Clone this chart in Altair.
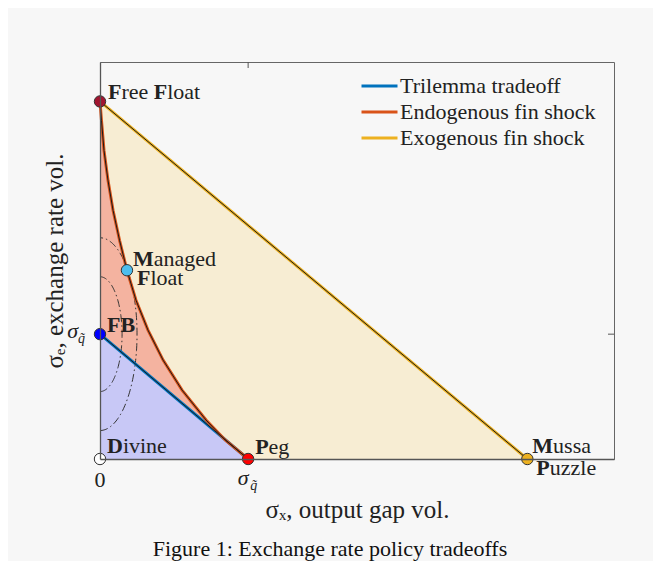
import altair as alt
import numpy as np
import pandas as pd

# ---------------- values ----------------
# x in units of sigma_q on the x axis, y in units of sigma_q on the y axis
x_max = 3.47
y_max = 3.18

trilemma_x = [0.0, 1.0]
trilemma_y = [1.0, 0.0]

endog_x = [0.0, 0.010, 0.027, 0.054, 0.088, 0.132, 0.182, 0.243, 0.324, 0.426, 0.554, 0.716, 0.845, 1.0]
endog_y = [2.864, 2.712, 2.472, 2.232, 1.992, 1.752, 1.512, 1.272, 1.032, 0.792, 0.552, 0.312, 0.152, 0.0]

exog_x = [0.0, 2.885]
exog_y = [2.864, 0.0]

series_names = ["Trilemma tradeoff", "Endogenous fin shock", "Exogenous fin shock"]
series_colors = ["#0072BD", "#D95319", "#EDB120"]

point_names = ["Free Float", "Managed Float", "FB", "Divine", "Peg", "Mussa Puzzle"]
point_x = [0.0, 0.182, 0.0, 0.0, 1.0, 2.885]
point_y = [2.864, 1.512, 1.0, 0.0, 0.0, 0.0]
point_colors = ["#A2142F", "#4DBEEE", "#0000FF", "#FFFFFF", "#FF0000", "#EDB120"]

# indifference ellipses centred on FB (semi-axes in data units)
ellipse_cy = 1.0
ellipse_ax = [0.149, 0.25]
ellipse_ay = [0.46, 0.772]

# ---------------- layout ----------------
W, H = 514, 397
kx, ky = W / x_max, H / y_max
FONT = "Liberation Serif"
TXT = "#222222"
FS = 22

xs = alt.Scale(domain=[0, x_max], nice=False, zero=False)
ys = alt.Scale(domain=[0, y_max], nice=False, zero=False)

xaxis = alt.Axis(title="σₓ, output gap vol.", labels=False, ticks=False, grid=False,
                 domainColor="#555", domainWidth=1.3, zindex=1,
                 titleFont=FONT, titleFontSize=25, titleFontWeight="normal", titleColor=TXT,
                 titleBaseline="alphabetic", titleY=58)
yaxis = alt.Axis(title="σₑ, exchange rate vol.", labels=False, ticks=False, grid=False,
                 domainColor="#555", domainWidth=1.3, zindex=1,
                 titleFont=FONT, titleFontSize=25, titleFontWeight="normal", titleColor=TXT,
                 titleBaseline="alphabetic", titleX=-38, titleAngle=-90)

# ---------------- data frames ----------------
tri = pd.DataFrame({"x": trilemma_x, "y": trilemma_y, "series": series_names[0], "o": range(2)})
endo = pd.DataFrame({"x": endog_x, "y": endog_y, "series": series_names[1], "o": range(len(endog_x))})
exo = pd.DataFrame({"x": exog_x, "y": exog_y, "series": series_names[2], "o": range(2)})
lines = pd.concat([tri, endo, exo], ignore_index=True)

t = np.linspace(-np.pi / 2, np.pi / 2, 120)
ell_rows = []
for i, (ax_, ay_) in enumerate(zip(ellipse_ax, ellipse_ay)):
    for j, tt in enumerate(t):
        ell_rows.append({"e": i, "o": j, "x": ax_ * np.cos(tt), "y": ellipse_cy + ay_ * np.sin(tt)})
ell = pd.DataFrame(ell_rows)

pts = pd.DataFrame({"name": point_names, "x": point_x, "y": point_y, "fill": point_colors})

# label pieces (bold initials) -- Times-compatible metrics for Liberation Serif
REG = {' ': 250, 'a': 444, 'd': 500, 'e': 444, 'g': 500, 'i': 278, 'l': 278, 'n': 500, 'o': 500,
       'r': 333, 's': 389, 'u': 500, 'v': 500, 'z': 444, 't': 278, 'F': 556, 'M': 889, 'P': 556,
       'D': 722, 'B': 667}
BOLD = {'F': 611, 'M': 944, 'P': 611, 'D': 722, 'B': 667}


def width(s, bold):
    tab = BOLD if bold else REG
    return sum(tab.get(c, 500) for c in s) * FS / 1000.0


label_lines = [
    (0, [("F", 1), ("ree ", 0), ("F", 1), ("loat", 0)], 8, -2),
    (1, [("M", 1), ("anaged", 0)], 6, -4),
    (1, [("F", 1), ("loat", 0)], 10, 15),
    (2, [("FB", 1)], 7, -2),
    (3, [("D", 1), ("ivine", 0)], 7, -6),
    (4, [("P", 1), ("eg", 0)], 7, -5),
    (5, [("M", 1), ("ussa", 0)], 5, -6),
    (5, [("P", 1), ("uzzle", 0)], 9, 16),
]
lab_rows = []
for pi, pieces, dx, dy in label_lines:
    off = dx
    for s, b in pieces:
        lab_rows.append({"text": s, "bold": b,
                         "x": point_x[pi] + off / kx, "y": point_y[pi] - dy / ky})
        off += width(s, b)
labs = pd.DataFrame(lab_rows)

# ---------------- layers ----------------
base_x = alt.X("x:Q", scale=xs, axis=xaxis)
base_y = alt.Y("y:Q", scale=ys, axis=yaxis)

fill_exo = alt.Chart(exo).mark_area(color="#F7EDD3").encode(x=base_x, y=base_y, y2=alt.datum(0))
fill_endo = alt.Chart(endo).mark_area(color="#F4B3A0").encode(x="x:Q", y="y:Q", y2=alt.datum(0))
fill_tri = alt.Chart(tri).mark_area(color="#C8C8F6").encode(x="x:Q", y="y:Q", y2=alt.datum(0))

ellipses = alt.Chart(ell).mark_line(color="#333333", strokeWidth=1, strokeDash=[8, 3, 1.5, 3]).encode(
    x="x:Q", y="y:Q", detail="e:N", order="o:Q")

color_lines = alt.Chart(lines).mark_line(strokeWidth=3).encode(
    x="x:Q", y="y:Q", order="o:Q",
    color=alt.Color("series:N", scale=alt.Scale(domain=series_names, range=series_colors),
                    legend=alt.Legend(title=None, orient="none", legendX=260, legendY=11,
                                      symbolType="stroke", symbolSize=1296, symbolStrokeWidth=3,
                                      labelFont=FONT, labelFontSize=FS, labelColor=TXT,
                                      labelOffset=1, rowPadding=0, clipHeight=26,
                                      labelLimit=400)))
core_lines = alt.Chart(lines).mark_line(strokeWidth=1, color="#1a1a1a").encode(
    x="x:Q", y="y:Q", detail="series:N", order="o:Q")

points = alt.Chart(pts).mark_point(filled=True, shape="circle", size=130, stroke="#333333",
                                   strokeWidth=1, opacity=1).encode(
    x="x:Q", y="y:Q", fill=alt.Fill("fill:N", scale=None))

lab_reg = alt.Chart(labs).transform_filter("datum.bold == 0").mark_text(
    align="left", baseline="alphabetic", font=FONT, fontSize=FS, color=TXT).encode(
    x="x:Q", y="y:Q", text="text:N")
lab_bold = alt.Chart(labs).transform_filter("datum.bold == 1").mark_text(
    align="left", baseline="alphabetic", font=FONT, fontSize=FS, fontWeight="bold", color=TXT).encode(
    x="x:Q", y="y:Q", text="text:N")

# tick labels
tick_df = pd.DataFrame({"x": [0.0], "y": [0.0]})
lab0 = alt.Chart(tick_df).mark_text(font=FONT, fontSize=FS, color=TXT, baseline="alphabetic",
                                    align="center", dy=28).encode(x="x:Q", y="y:Q", text=alt.value("0"))
sq_x = pd.DataFrame({"x": [1.0], "y": [0.0]})
sig_x = alt.Chart(sq_x).mark_text(font=FONT, fontSize=FS, fontStyle="italic", color=TXT,
                                  baseline="alphabetic", align="center", dx=-5, dy=26).encode(
    x="x:Q", y="y:Q", text=alt.value("σ"))
sub_x = alt.Chart(sq_x).mark_text(font=FONT, fontSize=14, fontStyle="italic", color=TXT,
                                  baseline="alphabetic", align="left", dx=2, dy=31).encode(
    x="x:Q", y="y:Q", text=alt.value("q̃"))
sq_y = pd.DataFrame({"x": [0.0], "y": [1.0]})
sig_y = alt.Chart(sq_y).mark_text(font=FONT, fontSize=FS, fontStyle="italic", color=TXT,
                                  baseline="alphabetic", align="right", dx=-22, dy=4).encode(
    x="x:Q", y="y:Q", text=alt.value("σ"))
sub_y = alt.Chart(sq_y).mark_text(font=FONT, fontSize=14, fontStyle="italic", color=TXT,
                                  baseline="alphabetic", align="left", dx=-22, dy=9).encode(
    x="x:Q", y="y:Q", text=alt.value("q̃"))

# inward ticks on top and right frame
top_tick = alt.Chart(sq_x).mark_rule(color="#555555", strokeWidth=1).encode(
    x=alt.datum(1.0), y=alt.value(0), y2=alt.value(6))
right_tick = alt.Chart(sq_y).mark_rule(color="#555555", strokeWidth=1).encode(
    y=alt.datum(1.0), x=alt.value(W - 6), x2=alt.value(W))

chart = alt.layer(
    fill_exo, fill_endo, fill_tri, ellipses, color_lines, core_lines, points,
    lab_reg, lab_bold, lab0, sig_x, sub_x, sig_y, sub_y, top_tick, right_tick
).properties(
    width=W, height=H,
    background="#f7f7f7",
    autosize=alt.AutoSizeParams(type="none"),
    padding={"left": 92, "top": 54, "right": 39, "bottom": 102},
    title=alt.TitleParams("Figure 1: Exchange rate policy tradeoffs", orient="bottom",
                          anchor="middle", dx=-27, offset=34, baseline="alphabetic",
                          font=FONT, fontSize=22, fontWeight="normal", color="#111111"),
).configure_view(stroke="#666666", strokeWidth=1)

chart.save("out.html", embed_options={"renderer": "svg", "actions": False})
